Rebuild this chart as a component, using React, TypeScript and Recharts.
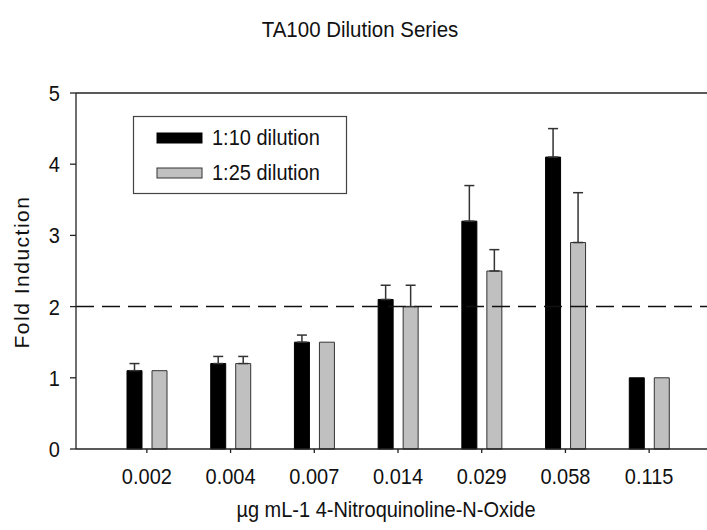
import React from 'react';
import { BarChart, Bar, XAxis, YAxis, ErrorBar, ReferenceLine } from 'recharts';

// 4-NQO concentrations (µg/mL)
const categories = ['0.002', '0.004', '0.007', '0.014', '0.029', '0.058', '0.115'];
// Fold induction, 1:10 and 1:25 dilution
const dilution10 = [1.1, 1.2, 1.5, 2.1, 3.2, 4.1, 1.0];
const dilution25 = [1.1, 1.2, 1.5, 2.0, 2.5, 2.9, 1.0];
// Upper error (SD); null where none is drawn
const error10: (number | null)[] = [0.1, 0.1, 0.1, 0.2, 0.5, 0.4, null];
const error25: (number | null)[] = [null, 0.1, null, 0.3, 0.3, 0.7, null];
const yTicks = [0, 1, 2, 3, 4, 5];
const threshold = 2;

const series = [
  { key: 'd10', err: 'e10', name: '1:10 dilution', fill: '#000000', stroke: '#000000' },
  { key: 'd25', err: 'e25', name: '1:25 dilution', fill: '#c0c0c0', stroke: '#333333' },
];

const data = categories.map((c, i) => ({
  conc: c,
  d10: dilution10[i],
  d25: dilution25[i],
  e10: error10[i] != null ? [0, error10[i]] : null,
  e25: error25[i] != null ? [0, error25[i]] : null,
}));

const FONT = '"Liberation Sans", Arial, sans-serif';
const W = 707;
const H = 530;
const STRETCH = 1.12; // slightly tall lettering

const XTick = (props: any) => {
  const { x, y, payload } = props;
  return (
    <g transform={`translate(${x},${y})`}>
      <text
        transform={`scale(1,${STRETCH})`}
        textAnchor="middle"
        dy="0.71em"
        fontSize={20}
        fontFamily={FONT}
        fill="#111"
      >
        {payload.value}
      </text>
    </g>
  );
};

const YTick = (props: any) => {
  const { x, y, payload } = props;
  return (
    <g transform={`translate(${x},${y})`}>
      <text
        transform={`scale(1,${STRETCH})`}
        textAnchor="end"
        dy="0.355em"
        fontSize={20}
        fontFamily={FONT}
        fill="#111"
      >
        {payload.value}
      </text>
    </g>
  );
};

const Label = ({ x, y, size, children, rotate }: any) => (
  <g transform={`translate(${x},${y})${rotate ? ' rotate(-90)' : ''}`}>
    <text transform={`scale(1,${STRETCH})`} textAnchor="middle" fontSize={size} fill="#111">
      {children}
    </text>
  </g>
);

export default function App() {
  return (
    <div style={{ position: 'absolute', left: 0, top: 0, width: W, height: H, background: '#fff' }}>
      <BarChart
        width={W}
        height={H}
        data={data}
        margin={{ top: 93, right: 0, bottom: 0, left: 0 }}
        barSize={15}
        barGap={10}
      >
        <XAxis
          dataKey="conc"
          height={81}
          padding={{ left: 29, right: 16 }}
          tickSize={4}
          tickMargin={15}
          stroke="#222"
          strokeWidth={1.3}
          tick={<XTick />}
        />
        <YAxis
          width={76}
          domain={[0, 5]}
          ticks={yTicks}
          interval={0}
          tickSize={6}
          tickMargin={10}
          stroke="#222"
          strokeWidth={1.3}
          tick={<YTick />}
        />
        <ReferenceLine y={5} stroke="#222" strokeWidth={1.3} />
        <ReferenceLine y={threshold} stroke="#111" strokeWidth={1.5} strokeDasharray="18 8" />
        {series.map((s) => (
          <Bar
            key={s.key}
            dataKey={s.key}
            name={s.name}
            fill={s.fill}
            stroke={s.stroke}
            strokeWidth={1}
            isAnimationActive={false}
          >
            <ErrorBar dataKey={s.err} width={5} stroke="#333" strokeWidth={1.5} direction="y" />
          </Bar>
        ))}
      </BarChart>
      <svg
        width={W}
        height={H}
        style={{ position: 'absolute', left: 0, top: 0, pointerEvents: 'none' }}
        fontFamily={FONT}
      >
        <Label x={360} y={37} size={20.5}>TA100 Dilution Series</Label>
        <g transform="translate(29,272) rotate(-90)">
          <text textAnchor="middle" fontSize={21} letterSpacing={1.5} fill="#111">
            Fold Induction
          </text>
        </g>
        <Label x={386} y={517} size={20}>µg mL-1 4-Nitroquinoline-N-Oxide</Label>
        <g>
          <rect x={133.5} y={116.5} width={213} height={77} fill="#fff" stroke="#444" strokeWidth={1.2} />
          {series.map((s, i) => (
            <g key={s.key}>
              <rect x={157} y={133 + i * 35} width={45} height={10} fill={s.fill} stroke={s.stroke} strokeWidth={1} />
              <g transform={`translate(212,${145 + i * 35})`}>
                <text transform={`scale(1,${STRETCH})`} fontSize={20} fill="#111">
                  {s.name}
                </text>
              </g>
            </g>
          ))}
        </g>
      </svg>
    </div>
  );
}
